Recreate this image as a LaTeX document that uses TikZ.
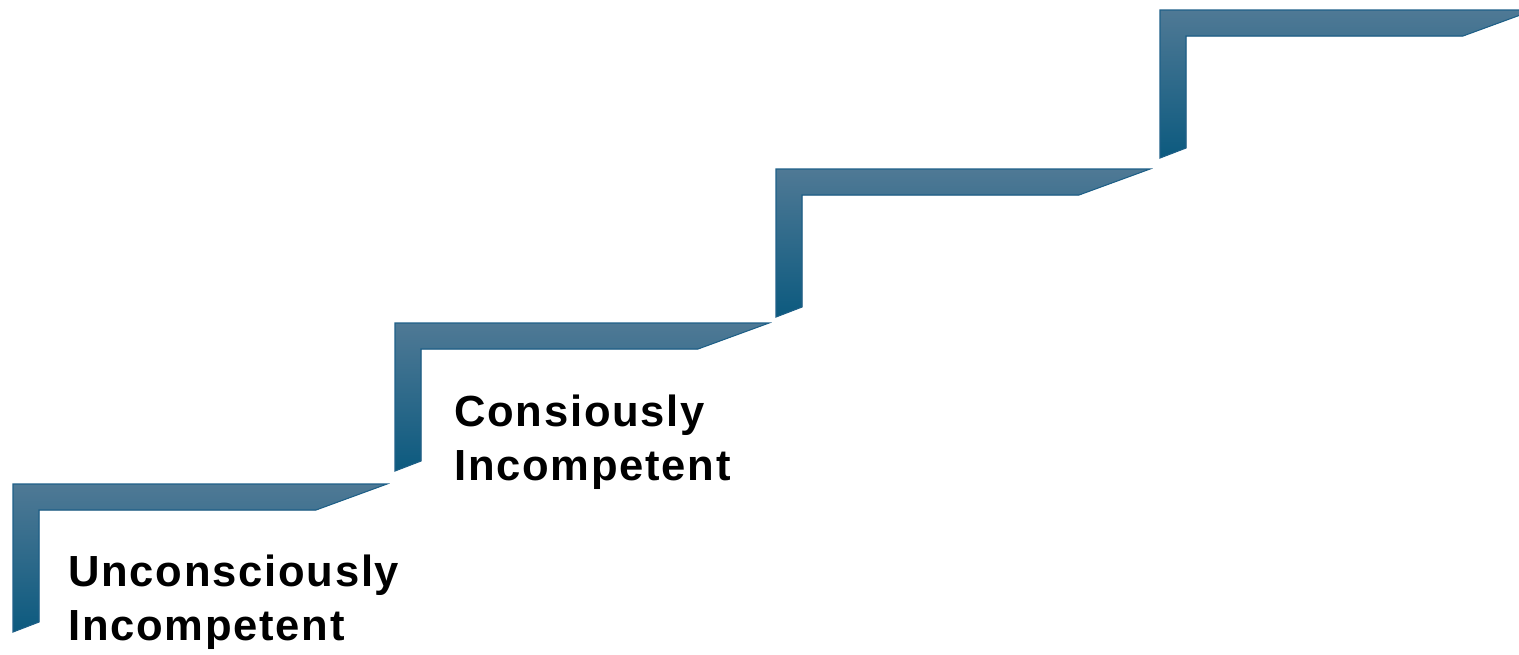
\documentclass[tikz,border=0pt]{standalone}
\usepackage{fontspec}
\setmainfont{Liberation Sans}[LetterSpace=4]
\definecolor{steplight}{HTML}{4F7995}
\definecolor{stepdark}{HTML}{0C5A7F}
\definecolor{stepedge}{HTML}{1E6088}
\tikzset{
    stair/.style={top color=steplight, bottom color=stepdark, draw=stepedge, line width=0.6pt, line join=miter},
    label/.style={anchor=base west, inner sep=0pt, align=left, font=\bfseries\fontsize{24.8}{30.4}\selectfont}
}
\begin{document}
\begin{tikzpicture}[x=0.02cm, y=-0.02cm]
\useasboundingbox (0,0) rectangle (1519,654);
\clip (0,0) rectangle (1519,654);
% the four stairs
\foreach \x/\y in {13/484,395/323,776/169,1160/10}
{
    \fill[stair](\x,\y)--++(374,0)--++(-71,26)--++(-277,0)--++(0,112)--++(-26,10)--cycle;
}
\node[label] (unconscious) at (68,640) {Unconsciously\\Incompetent};
\node[label] (conscious) at (454,480) {Consiously\\Incompetent};

\end{tikzpicture}
\end{document}
